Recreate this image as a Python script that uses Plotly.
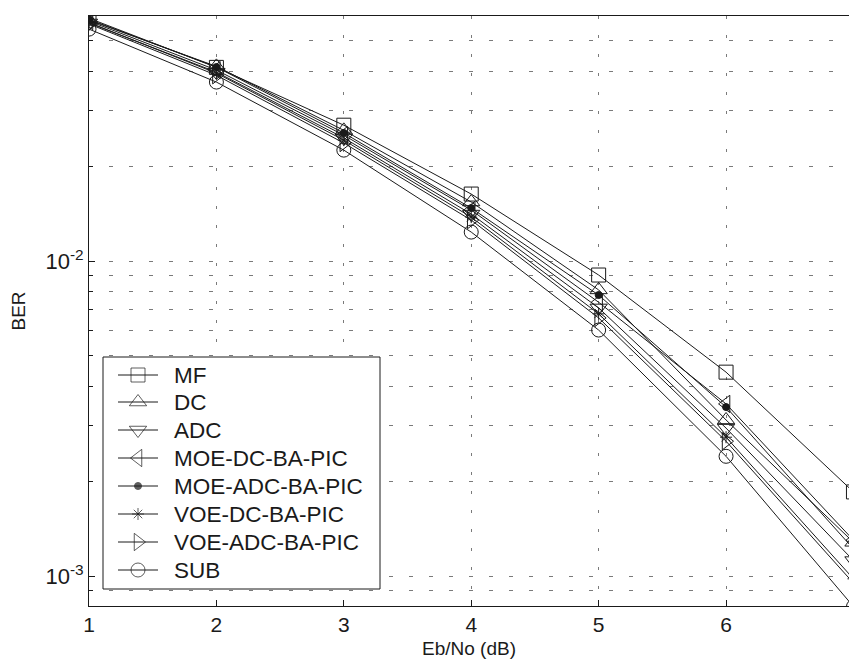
import plotly.graph_objects as go

ebno = [1, 2, 3, 4, 5, 6, 7]

series_names = ["MF", "DC", "ADC", "MOE-DC-BA-PIC", "MOE-ADC-BA-PIC",
                "VOE-DC-BA-PIC", "VOE-ADC-BA-PIC", "SUB"]

ber_mf      = [0.0590, 0.0412, 0.0270, 0.01632, 0.00903, 0.00444, 0.00185]
ber_dc      = [0.0582, 0.0415, 0.0260, 0.01540, 0.00810, 0.00313, 0.00128]
ber_adc     = [0.0570, 0.0398, 0.0246, 0.01410, 0.00710, 0.00295, 0.00112]
ber_moe_dc  = [0.0578, 0.0404, 0.0251, 0.01452, 0.00740, 0.00352, 0.00130]
ber_moe_adc = [0.0585, 0.0413, 0.0255, 0.01473, 0.00780, 0.00344, 0.00122]
ber_voe_dc  = [0.0572, 0.0395, 0.0242, 0.01379, 0.00680, 0.00276, 0.00098]
ber_voe_adc = [0.0566, 0.0389, 0.0237, 0.01349, 0.00660, 0.00268, 0.00095]
ber_sub     = [0.0545, 0.0370, 0.0225, 0.01236, 0.00604, 0.00240, 0.00080]

y_tick_vals = [1e-3, 1e-2]
y_tick_text = ["10<sup>-3</sup>", "10<sup>-2</sup>"]
y_minor_vals = [8e-4, 9e-4, 2e-3, 3e-3, 4e-3, 5e-3, 6e-3, 7e-3, 8e-3, 9e-3,
                2e-2, 3e-2, 4e-2, 5e-2, 6e-2]
x_tick_vals = [1, 2, 3, 4, 5, 6, 7]
x_tick_text = ["1", "2", "3", "4", "5", "6", "7"]

all_series = [ber_mf, ber_dc, ber_adc, ber_moe_dc, ber_moe_adc, ber_voe_dc, ber_voe_adc, ber_sub]
symbols = ["square-open", "triangle-up-open", "triangle-down-open", "triangle-left-open",
           "circle", "asterisk-open", "triangle-right-open", "circle-open"]
sizes = [14, 15, 15, 15, 7, 10, 15, 14]

ink = "#1a1a1a"
grid = "#7a7a7a"
fig = go.Figure()
for name, ys, sym, sz in zip(series_names, all_series, symbols, sizes):
    fig.add_trace(go.Scatter(
        x=ebno, y=ys, name=name, mode="lines+markers", showlegend=False,
        line=dict(color=ink, width=1),
        marker=dict(symbol=sym, size=sz, color=ink,
                    line=dict(color=ink, width=1)),
    ))

# ---- manual legend (MATLAB-style box) drawn on an overlay axis in [0,1] space ----
L, R, T, B = 89, 849, 16, 606           # plot area in pixels
def px(xp):
    return (xp - L) / (R - L)
def py(yp):
    return (B - yp) / (B - T)

box_x0, box_x1, box_y0, box_y1 = 103, 380, 357, 589
row_y = [375, 402, 430, 458, 486, 514, 542, 570]

fig.add_trace(go.Scatter(
    x=[px(box_x0), px(box_x1), px(box_x1), px(box_x0), px(box_x0)],
    y=[py(box_y0), py(box_y0), py(box_y1), py(box_y1), py(box_y0)],
    xaxis="x2", yaxis="y2", mode="lines", fill="toself", fillcolor="white",
    line=dict(color=ink, width=1), showlegend=False, hoverinfo="skip",
))
seg_x, seg_y = [], []
for ry in row_y:
    seg_x += [px(118), px(158), None]
    seg_y += [py(ry), py(ry), None]
fig.add_trace(go.Scatter(
    x=seg_x, y=seg_y, xaxis="x2", yaxis="y2", mode="lines",
    line=dict(color=ink, width=1), showlegend=False, hoverinfo="skip",
))
fig.add_trace(go.Scatter(
    x=[px(138)] * len(series_names), y=[py(r) for r in row_y],
    xaxis="x2", yaxis="y2", mode="markers", showlegend=False, hoverinfo="skip",
    marker=dict(symbol=symbols, size=sizes, color=ink, line=dict(color=ink, width=1)),
))
for name, ry in zip(series_names, row_y):
    fig.add_annotation(xref="paper", yref="paper", x=px(172), y=py(ry),
                       xanchor="left", yanchor="middle", showarrow=False,
                       text=name, font=dict(size=22.5, color=ink))

font_family = "Liberation Sans, Arial, Helvetica, sans-serif"
fig.update_layout(
    width=849, height=668,
    margin=dict(l=89, r=0, t=16, b=62),
    paper_bgcolor="white", plot_bgcolor="white",
    font=dict(family=font_family, size=21, color=ink),
    showlegend=False,
    xaxis=dict(
        range=[1, 6.965],
        tickmode="array", tickvals=x_tick_vals, ticktext=x_tick_text,
        ticks="inside", ticklen=6, tickcolor=ink,
        showline=True, linecolor=ink, linewidth=1, mirror=True,
        showgrid=True, gridcolor=grid, gridwidth=1, griddash="3px,16px",
        zeroline=False,
        title=dict(text="Eb/No (dB)", font=dict(size=19), standoff=6),
    ),
    yaxis=dict(
        type="log",
        range=[-3.095, -1.222],
        tickmode="array", tickvals=y_tick_vals, ticktext=y_tick_text,
        ticks="inside", ticklen=6, tickcolor=ink,
        showline=True, linecolor=ink, linewidth=1, mirror=True,
        showgrid=True, gridcolor=grid, gridwidth=1, griddash="4px,16px",
        minor=dict(tickvals=y_minor_vals, ticks="inside", ticklen=4, tickcolor=ink,
                   showgrid=True, gridcolor=grid, gridwidth=1, griddash="4px,16px"),
        zeroline=False,
        tickfont=dict(size=22),
        title=dict(text="BER", font=dict(size=19), standoff=14),
    ),
    xaxis2=dict(overlaying="x", range=[0, 1], visible=False, fixedrange=True),
    yaxis2=dict(overlaying="y", range=[0, 1], visible=False, fixedrange=True),
)

fig.write_html("out.html")
